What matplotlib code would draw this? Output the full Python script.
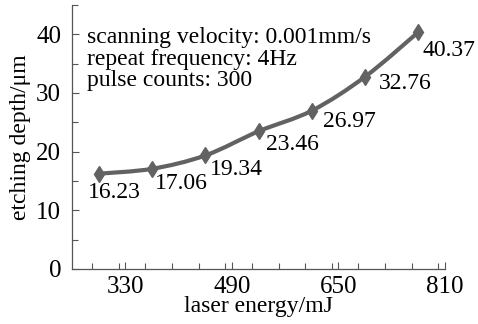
import matplotlib
matplotlib.use('Agg')
import matplotlib.pyplot as plt
from matplotlib.ticker import MultipleLocator
from matplotlib.path import Path
from matplotlib.patches import PathPatch
import numpy as np

plt.rcParams['font.family'] = ['Liberation Serif', 'DejaVu Serif']

## data
energy = [290, 370, 450, 530, 610, 690, 770]
depth = [16.23, 17.06, 19.34, 23.46, 26.97, 32.76, 40.37]
labels = ['16.23', '17.06', '19.34', '23.46', '26.97', '32.76', '40.37']
## label offsets (pixels) from each point
offsets = [(-11, -19), (3, -15), (5, -14), (7, -13), (11, -11), (14, -7), (4, -18)]

fig = plt.figure(figsize=(4.78, 3.24), dpi=100)
ax = fig.add_axes([0.151, 0.170, 0.780, 0.815])

col = '#626262'

## smooth line through the points (catmull-rom -> bezier segments)
p = np.column_stack([energy, depth]).astype(float)
ext = np.vstack([p[0], p, p[-1]])
verts = [tuple(p[0])]
codes = [Path.MOVETO]
for i in range(1, len(ext) - 2):
    c1 = ext[i] + (ext[i + 1] - ext[i - 1]) / 6.
    c2 = ext[i + 1] - (ext[i + 2] - ext[i]) / 6.
    verts += [tuple(c1), tuple(c2), tuple(ext[i + 1])]
    codes += [Path.CURVE4] * 3
ax.add_patch(PathPatch(Path(verts, codes), fc='none', ec=col, lw=3, capstyle='round'))
ax.plot(energy, depth, ls='none', marker='d', ms=8, mec=col, mfc=col)

for x, y, t, (dx, dy) in zip(energy, depth, labels, offsets):
    ax.annotate(t, (x, y), xytext=(dx, dy), textcoords='offset pixels',
                ha='left', va='center', fontsize=17)

ax.text(0.04, 0.915, 'scanning velocity: 0.001mm/s\nrepeat frequency: 4Hz\npulse counts: 300',
        transform=ax.transAxes, ha='left', va='top', fontsize=17, linespacing=1.03)

ax.set_xlim(250, 810)
ax.set_ylim(0, 45)
ax.set_xticks([330, 490, 650, 810])
ax.set_yticks([0, 10, 20, 30, 40])
ax.xaxis.set_minor_locator(MultipleLocator(40))
ax.yaxis.set_minor_locator(MultipleLocator(5))
ax.tick_params(which='both', direction='in', width=0.8, color='#555555', labelsize=18)
ax.tick_params(which='major', length=5)
ax.tick_params(which='minor', length=4)
ax.tick_params(axis='x', pad=5)
ax.tick_params(axis='y', pad=8)

for s in ['top', 'right']:
    ax.spines[s].set_visible(False)
for s in ['left', 'bottom']:
    ax.spines[s].set_color('#555555')
    ax.spines[s].set_linewidth(0.9)

ax.set_xlabel('laser energy/mJ', fontsize=17, labelpad=-1)
ax.set_ylabel('etching depth/μm', fontsize=17, labelpad=4)

fig.savefig('out.png', dpi=100)
